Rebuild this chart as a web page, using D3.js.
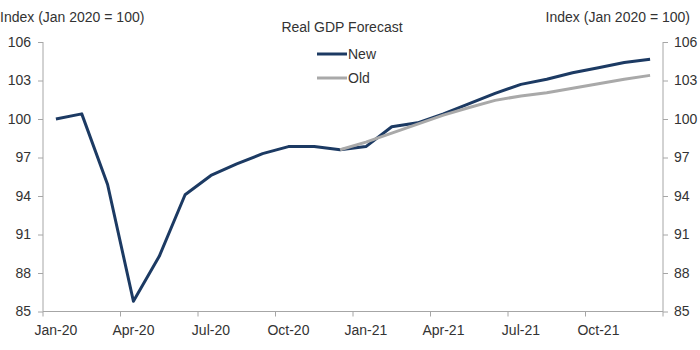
<!DOCTYPE html>
<html>
<head>
<meta charset="utf-8">
<script src="https://cdn.jsdelivr.net/npm/d3@7"></script>
<style>
	body { margin: 0; background: #fff; }
	svg { display: block; font-family: "Liberation Sans", Arial, sans-serif; }
	.axis text { fill: #333; font-size: 14px; }
	.axis path, .axis line { stroke: #a6a6a6; }
</style>
</head>
<body>
<div id="chart"></div>
<script>
// Monthly categories
let months = ["Jan-20", "Feb-20", "Mar-20", "Apr-20", "May-20", "Jun-20",
	"Jul-20", "Aug-20", "Sep-20", "Oct-20", "Nov-20", "Dec-20",
	"Jan-21", "Feb-21", "Mar-21", "Apr-21", "May-21", "Jun-21",
	"Jul-21", "Aug-21", "Sep-21", "Oct-21", "Nov-21", "Dec-21"];

// New forecast, Jan 2020 = 100
let newValues = [100.0, 100.4, 94.9, 85.8, 89.3, 94.1,
	95.6, 96.5, 97.3, 97.85, 97.85, 97.6,
	97.85, 99.4, 99.7, 100.4, 101.2, 102.0,
	102.7, 103.1, 103.6, 104.0, 104.4, 104.65];

// Old forecast starts in Dec-20
let oldValues = [null, null, null, null, null, null,
	null, null, null, null, null, 97.6,
	98.2, 98.9, 99.6, 100.3, 100.9, 101.45,
	101.8, 102.05, 102.4, 102.75, 103.1, 103.4];

let yTicks = [85, 88, 91, 94, 97, 100, 103, 106];
let xLabels = ["Jan-20", "Apr-20", "Jul-20", "Oct-20", "Jan-21", "Apr-21", "Jul-21", "Oct-21"];

let series = [
	{ name: "New", values: newValues, color: "#1c3a63" },
	{ name: "Old", values: oldValues, color: "#a9a9a9" }
];

let width = 700, height = 350;
let margin = { top: 42, right: 37, bottom: 38.5, left: 43 };

let svg = d3.select("#chart").append("svg")
	.attr("width", width)
	.attr("height", height);

// Scales
let x = d3.scaleBand()
	.domain(months)
	.range([margin.left, width - margin.right])
	.padding(0);

let y = d3.scaleLinear()
	.domain([85, 106])
	.range([height - margin.bottom, margin.top]);

let xMid = d => x(d) + x.bandwidth() / 2;

// Left axis
svg.append("g")
	.attr("class", "axis")
	.attr("transform", "translate(" + margin.left + ",0)")
	.call(d3.axisLeft(y).tickValues(yTicks).tickSize(5).tickSizeOuter(0).tickPadding(7))
	.select(".domain").attr("d", "M0," + y(85) + "V" + y(106));

// Right axis
svg.append("g")
	.attr("class", "axis")
	.attr("transform", "translate(" + (width - margin.right) + ",0)")
	.call(d3.axisRight(y).tickValues(yTicks).tickSize(5).tickSizeOuter(0).tickPadding(6))
	.select(".domain").attr("d", "M0," + y(85) + "V" + y(106));

// Bottom axis: labels at category centres, ticks at category edges
let xAxisG = svg.append("g")
	.attr("class", "axis")
	.attr("transform", "translate(0," + y(85) + ")");

xAxisG.append("line")
	.attr("x1", margin.left)
	.attr("x2", width - margin.right);

xAxisG.selectAll(".tick-mark")
	.data(xLabels.concat(["end"]))
	.join("line")
	.attr("class", "tick-mark")
	.attr("x1", d => d === "end" ? width - margin.right : x(d))
	.attr("x2", d => d === "end" ? width - margin.right : x(d))
	.attr("y1", 0)
	.attr("y2", 5);

xAxisG.selectAll(".tick-label")
	.data(xLabels)
	.join("text")
	.attr("class", "tick-label")
	.attr("x", d => xMid(d))
	.attr("y", 23)
	.attr("text-anchor", "middle")
	.text(d => d);

// Axis titles
svg.append("text")
	.attr("x", 0)
	.attr("y", 22)
	.attr("fill", "#333")
	.attr("font-size", 14)
	.text("Index (Jan 2020 = 100)");

svg.append("text")
	.attr("x", 690)
	.attr("y", 22)
	.attr("text-anchor", "end")
	.attr("fill", "#333")
	.attr("font-size", 14)
	.text("Index (Jan 2020 = 100)");

// Lines
let line = d3.line()
	.defined(d => d.value !== null)
	.x(d => xMid(d.month))
	.y(d => y(d.value));

svg.selectAll(".series")
	.data(series)
	.join("path")
	.attr("class", "series")
	.attr("fill", "none")
	.attr("stroke", d => d.color)
	.attr("stroke-width", 3)
	.attr("stroke-linejoin", "round")
	.attr("d", d => line(d.values.map((v, i) => ({ month: months[i], value: v }))));

// Title and legend
svg.append("text")
	.attr("x", 342)
	.attr("y", 32)
	.attr("text-anchor", "middle")
	.attr("fill", "#333")
	.attr("font-size", 14)
	.text("Real GDP Forecast");

let legend = svg.selectAll(".legend")
	.data(series)
	.join("g")
	.attr("class", "legend")
	.attr("transform", (d, i) => "translate(317," + (54 + i * 24) + ")");

legend.append("line")
	.attr("x1", 0)
	.attr("x2", 30)
	.attr("stroke", d => d.color)
	.attr("stroke-width", 3);

legend.append("text")
	.attr("x", 31)
	.attr("y", 5)
	.attr("fill", "#333")
	.attr("font-size", 14)
	.text(d => d.name);
</script>
</body>
</html>
